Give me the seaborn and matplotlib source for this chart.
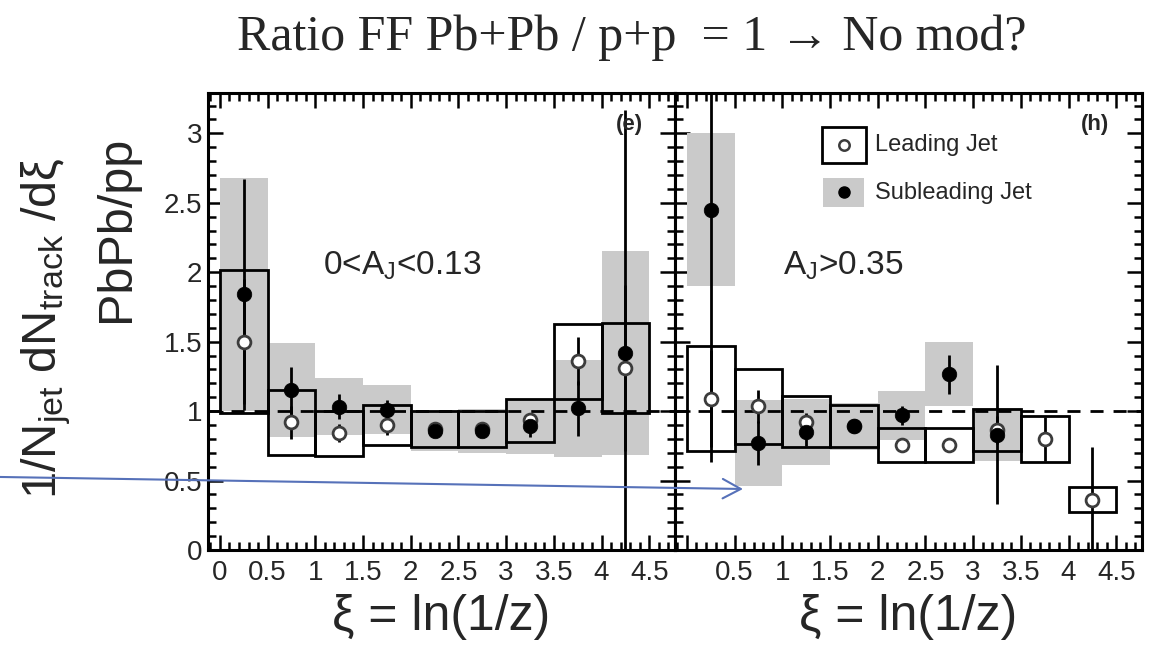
import numpy as np
import pandas as pd
import matplotlib
matplotlib.use("Agg")
import matplotlib.pyplot as plt
from matplotlib.patches import Rectangle, FancyArrowPatch
from matplotlib.lines import Line2D
from matplotlib.ticker import MultipleLocator
import seaborn as sns

# xi bins
xi_edges = [0.0, 0.5, 1.0, 1.5, 2.0, 2.5, 3.0, 3.5, 4.0, 4.5]

# Panel (e): 0 < A_J < 0.13
bal_lead = [1.50, 0.92, 0.84, 0.90, 0.87, 0.87, 0.935, 1.36, 1.31]
bal_lead_stat = [0.45, 0.12, 0.065, 0.07, 0.03, 0.03, 0.05, 0.17, 0.60]
bal_lead_sys = [0.515, 0.235, 0.16, 0.145, 0.13, 0.13, 0.155, 0.27, 0.325]
bal_sub = [1.84, 1.15, 1.03, 1.01, 0.86, 0.856, 0.89, 1.02, 1.42]
bal_sub_stat = [0.83, 0.17, 0.09, 0.07, 0.03, 0.03, 0.08, 0.20, 1.75]
bal_sub_sys = [0.84, 0.34, 0.205, 0.175, 0.15, 0.16, 0.20, 0.35, 0.735]

# Panel (h): A_J > 0.35
unb_lead = [1.09, 1.035, 0.925, 0.895, 0.755, 0.755, 0.865, 0.80, 0.36]
unb_lead_stat = [0.35, 0.12, 0.06, 0.05, 0.03, 0.03, 0.10, 0.16, 0.385]
unb_lead_sys = [0.38, 0.27, 0.185, 0.15, 0.12, 0.12, 0.15, 0.165, 0.09]
unb_sub = [2.45, 0.77, 0.85, 0.89, 0.97, 1.266, 0.83, np.nan, np.nan]
unb_sub_stat = [1.82, 0.16, 0.10, 0.04, 0.07, 0.14, 0.50, np.nan, np.nan]
unb_sub_sys = [0.55, 0.31, 0.235, 0.17, 0.175, 0.23, 0.19, np.nan, np.nan]

x_ticks = [0, 0.5, 1, 1.5, 2, 2.5, 3, 3.5, 4, 4.5]
x_labels_left = ["0", "0.5", "1", "1.5", "2", "2.5", "3", "3.5", "4", "4.5"]
x_labels_right = ["", "0.5", "1", "1.5", "2", "2.5", "3", "3.5", "4", "4.5"]
y_ticks = [0, 0.5, 1, 1.5, 2, 2.5, 3]
y_labels = ["0", "0.5", "1", "1.5", "2", "2.5", "3"]

panel_tags = ["(e)", "(h)"]
panel_cuts = [r"0<A$_{\rm J}$<0.13", r"A$_{\rm J}$>0.35"]
legend_labels = ["Leading Jet", "Subleading Jet"]
x_title = "ξ = ln(1/z)"
y_title_1 = r"1/N$_{\rm jet}$ dN$_{\rm track}$ /dξ"
y_title_2 = "PbPb/pp"
headline = "Ratio FF Pb+Pb / p+p  = 1 \u2192 No mod?"

GRAY = "#cacaca"
SANS = ["Liberation Sans", "DejaVu Sans"]

sns.set_style("ticks")
plt.rcParams["font.family"] = SANS
plt.rcParams["mathtext.fontset"] = "custom"
plt.rcParams["mathtext.rm"] = "Liberation Sans"
plt.rcParams["mathtext.it"] = "Liberation Sans:italic"
plt.rcParams["mathtext.bf"] = "Liberation Sans:bold"

fig = plt.figure(figsize=(11.51, 6.5), dpi=100)
fig.patch.set_facecolor("white")
L, B, W, H = 208 / 1151, 1 - 550 / 650, 467 / 1151, 457 / 650
ax_l = fig.add_axes([L, B, W, H])
ax_r = fig.add_axes([L + W, B, W, H])


def panel_frame(lead, lead_stat, lead_sys, sub, sub_stat, sub_sys):
    lo = np.array(xi_edges[:-1])
    width = np.diff(xi_edges)
    return pd.DataFrame({
        "lo": lo, "width": width, "mid": lo + width / 2,
        "lead": lead, "lead_stat": lead_stat, "lead_sys": lead_sys,
        "sub": sub, "sub_stat": sub_stat, "sub_sys": sub_sys,
    })


def draw_panel(ax, df):
    sub_ok = df.dropna(subset=["sub"])
    # systematic bands: grey filled (subleading), open boxes (leading)
    ax.bar(sub_ok["lo"], 2 * sub_ok["sub_sys"], bottom=sub_ok["sub"] - sub_ok["sub_sys"],
           width=sub_ok["width"], align="edge", color=GRAY, edgecolor="none", zorder=1)
    ax.bar(df["lo"], 2 * df["lead_sys"], bottom=df["lead"] - df["lead_sys"],
           width=df["width"], align="edge", facecolor="none", edgecolor="black",
           linewidth=2.0, zorder=2)
    ax.axhline(1.0, color="black", lw=2.0, ls=(0, (4.7, 3.6)), zorder=3)
    # statistical errors
    ax.errorbar(df["mid"], df["lead"], yerr=df["lead_stat"], fmt="none",
                ecolor="black", elinewidth=2.0, capsize=0, zorder=4)
    ax.errorbar(sub_ok["mid"], sub_ok["sub"], yerr=sub_ok["sub_stat"], fmt="none",
                ecolor="black", elinewidth=2.0, capsize=0, zorder=4)
    sns.scatterplot(data=df, x="mid", y="lead", ax=ax, marker="o", s=85,
                    color="white", edgecolor="#3c3c3c", linewidth=2.0,
                    legend=False, zorder=5)
    sns.scatterplot(data=sub_ok, x="mid", y="sub", ax=ax, marker="o", s=110,
                    color="black", edgecolor="black", linewidth=0.5,
                    legend=False, zorder=6)


def style_axes(ax, xlabels, show_y):
    ax.set_xlim(-0.125, 4.77)
    ax.set_ylim(0, 3.29)
    ax.set_xticks(x_ticks)
    ax.set_xticklabels(xlabels, fontsize=20)
    ax.set_yticks(y_ticks)
    if show_y:
        ax.set_yticklabels(y_labels, fontsize=20)
    else:
        ax.set_yticklabels([])
    ax.xaxis.set_minor_locator(MultipleLocator(0.1))
    ax.yaxis.set_minor_locator(MultipleLocator(0.1))
    ax.tick_params(which="both", direction="in", top=True, right=True,
                   width=1.8, color="black")
    ax.tick_params(which="major", length=11)
    ax.tick_params(which="minor", length=5.5)
    ax.tick_params(axis="x", pad=7)
    ax.tick_params(axis="y", pad=4, labelleft=show_y)
    for sp in ax.spines.values():
        sp.set_visible(True)
        sp.set_linewidth(2.2)
        sp.set_color("black")
    ax.set_xlabel(x_title, fontsize=36, labelpad=6)
    ax.set_ylabel("")
    ax.set_facecolor("white")


panels = [
    (ax_l, panel_frame(bal_lead, bal_lead_stat, bal_lead_sys, bal_sub, bal_sub_stat, bal_sub_sys)),
    (ax_r, panel_frame(unb_lead, unb_lead_stat, unb_lead_sys, unb_sub, unb_sub_stat, unb_sub_sys)),
]
for i, (ax, df) in enumerate(panels):
    draw_panel(ax, df)
    style_axes(ax, x_labels_left if i == 0 else x_labels_right, show_y=(i == 0))
    ax.text(0.902 if i == 0 else 0.899, 0.93, panel_tags[i], transform=ax.transAxes,
            ha="center", va="center", fontsize=16, fontweight="bold", zorder=7)

ax_l.text(0.246, 0.602, panel_cuts[0], transform=ax_l.transAxes, ha="left",
          va="baseline", fontsize=24)
ax_r.text(0.231, 0.602, panel_cuts[1], transform=ax_r.transAxes, ha="left",
          va="baseline", fontsize=24)

# legend built from a framed open box and a grey band
ax_r.add_patch(Rectangle((0.315, 0.847), 0.094, 0.079, transform=ax_r.transAxes,
                         facecolor="white", edgecolor="black", lw=2.0, zorder=8))
ax_r.add_line(Line2D([0.362], [0.8865], transform=ax_r.transAxes, marker="o",
                     markersize=7.5, markerfacecolor="white", markeredgecolor="#3c3c3c",
                     markeredgewidth=1.8, linestyle="none", zorder=9))
ax_r.add_patch(Rectangle((0.317, 0.751), 0.088, 0.063, transform=ax_r.transAxes,
                         facecolor=GRAY, edgecolor="none", zorder=8))
ax_r.add_line(Line2D([0.361], [0.7825], transform=ax_r.transAxes, marker="o",
                     markersize=8, markerfacecolor="black", markeredgecolor="black",
                     linestyle="none", zorder=9))
ax_r.text(0.428, 0.886, legend_labels[0], transform=ax_r.transAxes, ha="left",
          va="center", fontsize=17, zorder=9)
ax_r.text(0.428, 0.781, legend_labels[1], transform=ax_r.transAxes, ha="left",
          va="center", fontsize=17, zorder=9)

# axis title (two lines set separately)
fig.text(0.040, 0.495, y_title_1, rotation=90, ha="center", va="center", fontsize=35)
fig.text(0.101, 0.648, y_title_2, rotation=90, ha="center", va="center", fontsize=35)

# slide headline
fig.text(0.549, 0.9415, headline, ha="center", va="center", fontsize=36,
         family=["Liberation Serif", "DejaVu Serif"])

# annotation arrow pointing into the right panel
arrow = FancyArrowPatch((0.0, 0.2662), (0.6455, 0.2477), transform=fig.transFigure,
                        arrowstyle="->,head_length=13,head_width=7", mutation_scale=1,
                        color="#5671b9", lw=1.5, shrinkA=0, shrinkB=0, zorder=20)
fig.add_artist(arrow)

fig.savefig("out.png", dpi=100, facecolor="white")
